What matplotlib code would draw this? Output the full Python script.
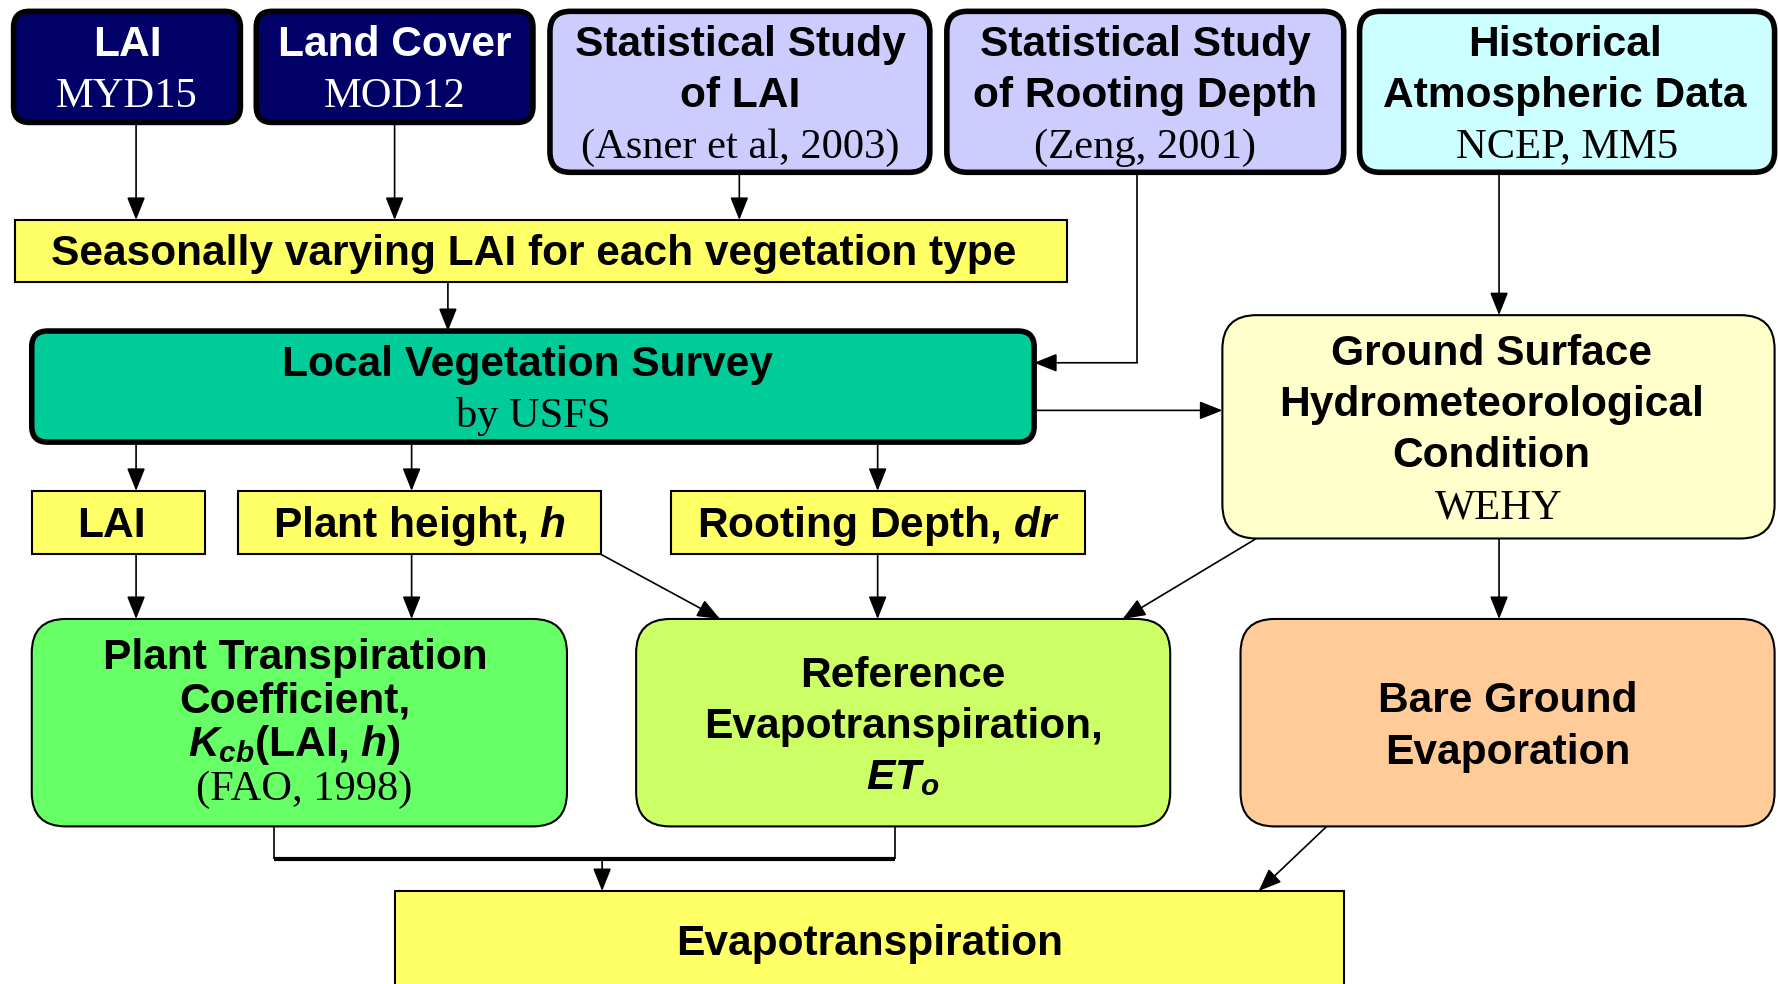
import matplotlib
matplotlib.use("Agg")
import matplotlib.pyplot as plt
from matplotlib.patches import FancyBboxPatch, Rectangle

plt.rcParams['mathtext.fontset'] = 'custom'
plt.rcParams['mathtext.rm'] = 'Liberation Sans:bold'
plt.rcParams['mathtext.it'] = 'Liberation Sans:italic:bold'
plt.rcParams['mathtext.bf'] = 'Liberation Sans:bold'

SANS = 'Liberation Sans'
SERIF = 'Liberation Serif'

# ---- node content ----
node_ids = ['lai_src', 'lc_src', 'stat_lai', 'stat_root', 'hist_atm', 'seasonal',
            'local_veg', 'ground', 'lai', 'height', 'rooting', 'kcb', 'et0', 'bare', 'et']
node_titles = [
    ['LAI'], ['Land Cover'], ['Statistical Study', 'of LAI'],
    ['Statistical Study', 'of Rooting Depth'], ['Historical', 'Atmospheric Data'],
    ['Seasonally varying LAI for each vegetation type'],
    ['Local Vegetation Survey'],
    ['Ground Surface', 'Hydrometeorological', 'Condition'],
    ['LAI'], ['Plant height, $h$'], ['Rooting Depth, $dr$'],
    ['Plant Transpiration', 'Coefficient,', '$K_{cb}$(LAI, $h$)'],
    ['Reference', 'Evapotranspiration,', '$ET_o$'],
    ['Bare Ground', 'Evaporation'],
    ['Evapotranspiration'],
]
node_subtitles = ['MYD15', 'MOD12', '(Asner et al, 2003)', '(Zeng, 2001)', 'NCEP, MM5',
                  None, 'by USFS', 'WEHY', None, None, None, '(FAO, 1998)', None, None, None]
node_colors = ['#000066', '#000066', '#CCCCFF', '#CCCCFF', '#CCFFFF', '#FFFF66',
               '#00CC99', '#FFFFCC', '#FFFF66', '#FFFF66', '#FFFF66', '#66FF66',
               '#CCFF66', '#FFCC99', '#FFFF66']

# ---- layout (x0, y0, x1, y1, corner radius, border width, text color, line gap,
#              first line y, title x-offset, subtitle x-offset) ----
layout = {
    'lai_src':   (12, 10, 212, 108, 14, 4.0, 'white', 45, 37, 0, 0),
    'lc_src':    (226, 10, 470, 108, 14, 4.0, 'white', 45, 37, 0, 0),
    'stat_lai':  (485, 10, 820, 152, 18, 4.0, 'black', 45, 37, 0, 0),
    'stat_root': (835, 10, 1185, 152, 18, 4.0, 'black', 45, 37, 0, 0),
    'hist_atm':  (1199, 10, 1565, 152, 18, 4.0, 'black', 45, 37, -2, 0),
    'seasonal':  (13, 194, 941, 249, 0, 1.5, 'black', 45, 222, -6, 0),
    'local_veg': (28, 292, 912, 390, 14, 4.0, 'black', 45, 320, -5, 0),
    'ground':    (1078, 278, 1565, 475, 30, 1.5, 'black', 45, 310, -6, 0),
    'lai':       (28, 433, 181, 489, 0, 1.5, 'black', 45, 462, -6, 0),
    'height':    (210, 433, 530, 489, 0, 1.5, 'black', 45, 462, 0, 0),
    'rooting':   (592, 433, 957, 489, 0, 1.5, 'black', 45, 462, 0, 0),
    'kcb':       (28, 546, 500, 729, 30, 1.5, 'black', 38.5, 578, -4, 4),
    'et0':       (561, 546, 1032, 729, 30, 1.5, 'black', 45, 594, 0, 0),
    'bare':      (1094, 546, 1565, 729, 30, 1.5, 'black', 46, 616, 0, 0),
    'et':        (348, 786, 1185, 900, 0, 1.5, 'black', 45, 830, 0, 0),
}

# arrows: (x0, y0, x1, y1)
arrows = [
    (120, 108, 120, 194), (348, 108, 348, 194), (652, 152, 652, 194),
    (395, 249, 395, 292), (1003, 320, 912, 320), (1322, 152, 1322, 278),
    (912, 362, 1078, 362),
    (120, 390, 120, 433), (363, 390, 363, 433), (774, 390, 774, 433),
    (120, 489, 120, 546), (363, 489, 363, 546), (530, 489, 635, 546),
    (774, 489, 774, 546), (1108, 475, 990, 546), (1322, 475, 1322, 546),
    (531, 758, 531, 786), (1170, 729, 1110, 786),
]
# plain lines
lines = [
    ((1003, 1003), (152, 320), 1.2),
    ((242, 242), (729, 758), 1.2),
    ((789, 789), (729, 758), 1.2),
    ((242, 789), (758, 758), 3.0),
]

fig = plt.figure(figsize=(17.78, 9.84), dpi=100)
ax = fig.add_axes([0, 0, 1, 1])
ax.set_xlim(0, 1568)
ax.set_ylim(868, 0)
ax.axis('off')

for (xs, ys, lw) in lines:
    ax.plot(xs, ys, color='black', lw=lw, solid_capstyle='butt', zorder=1)

for (x0, y0, x1, y1) in arrows:
    ax.annotate('', xy=(x1, y1), xytext=(x0, y0),
                arrowprops=dict(arrowstyle='-|>,head_length=0.7,head_width=0.28', color='black',
                                lw=1.2, shrinkA=0, shrinkB=0, mutation_scale=20), zorder=2)

FS = 30.6
for nid, titles, sub, col in zip(node_ids, node_titles, node_subtitles, node_colors):
    x0, y0, x1, y1, r, lw, tc, gap, ty, tdx, sdx = layout[nid]
    if r > 0:
        p = FancyBboxPatch((x0, y0), x1 - x0, y1 - y0,
                           boxstyle=f'round,pad=0,rounding_size={r}',
                           fc=col, ec='black', lw=lw, zorder=3)
    else:
        p = Rectangle((x0, y0), x1 - x0, y1 - y0, fc=col, ec='black', lw=lw, zorder=3)
    ax.add_patch(p)
    cx = (x0 + x1) / 2
    y = ty
    for t in titles:
        ax.text(cx + tdx, y + 12, t, ha='center', va='baseline', fontsize=FS, family=SANS,
                fontweight='bold', color=tc, zorder=4)
        y += gap
    if sub:
        ax.text(cx + sdx, y + 12, sub, ha='center', va='baseline', fontsize=FS, family=SERIF,
                color=tc, zorder=4)

fig.savefig('out.png', dpi=100)
